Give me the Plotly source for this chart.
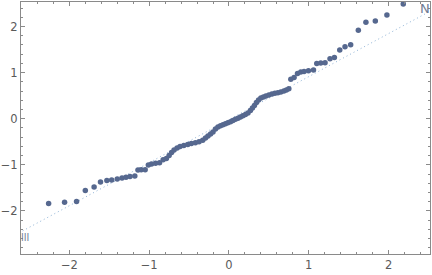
import numpy as np
import plotly.graph_objects as go

# Theoretical normal quantiles (x) and sorted sample values (y)
x_quant = [-2.26, -2.06, -1.91, -1.80, -1.69, -1.61, -1.53, -1.47, -1.40, -1.34,
           -1.29, -1.24, -1.18, -1.14, -1.10, -1.05, -1.01, -0.97, -0.92, -0.87,
           -0.825, -0.784, -0.75, -0.719, -0.688, -0.65, -0.613, -0.566, -0.516, -0.471,
           -0.421, -0.375, -0.329, -0.294, -0.263, -0.231, -0.20, -0.169, -0.138, -0.106,
           -0.075, -0.044, -0.013, 0.019, 0.05, 0.081, 0.113, 0.144, 0.175, 0.206,
           0.238, 0.269, 0.294, 0.319, 0.344, 0.371, 0.40, 0.431, 0.463, 0.50,
           0.538, 0.575, 0.613, 0.65, 0.688, 0.719, 0.75, 0.775, 0.816, 0.859,
           0.90, 0.941, 0.996, 1.059, 1.10, 1.15, 1.204, 1.266, 1.321, 1.388,
           1.454, 1.525, 1.621, 1.716, 1.834, 1.979, 2.184]
y_sample = [-1.838, -1.810, -1.795, -1.557, -1.479, -1.371, -1.341, -1.328, -1.307, -1.285,
            -1.270, -1.255, -1.242, -1.112, -1.108, -1.104, -1.004, -0.983, -0.968, -0.952,
            -0.892, -0.860, -0.795, -0.730, -0.676, -0.633, -0.600, -0.579, -0.557, -0.536,
            -0.521, -0.499, -0.464, -0.417, -0.374, -0.330, -0.287, -0.222, -0.179, -0.153,
            -0.132, -0.110, -0.089, -0.067, -0.039, -0.011, 0.011, 0.037, 0.065, 0.091,
            0.123, 0.177, 0.231, 0.285, 0.350, 0.408, 0.447, 0.469, 0.495, 0.516,
            0.538, 0.551, 0.566, 0.581, 0.603, 0.624, 0.652, 0.857, 0.896, 0.983,
            1.013, 1.026, 1.041, 1.056, 1.199, 1.207, 1.214, 1.300, 1.328, 1.488,
            1.559, 1.603, 1.920, 2.093, 2.121, 2.251, 2.488]

# Reference line y = intercept + slope * x
ref_intercept = -0.02
ref_slope = 0.933

x_ticks = [-2, -1, 0, 1, 2]
y_ticks = [-2, -1, 0, 1, 2]
x_range = [-2.606, 2.519]
y_range = [-2.933, 2.531]

line_x = np.array([x_range[0] - 0.2, x_range[1] + 0.2])
line_y = ref_intercept + ref_slope * line_x

fig = go.Figure()
fig.add_trace(go.Scatter(
    x=line_x, y=line_y, mode="lines",
    line=dict(color="#8fb3d6", width=1, dash="1px,3px"),
    hoverinfo="skip", showlegend=False))
fig.add_trace(go.Scatter(
    x=x_quant, y=y_sample, mode="markers",
    marker=dict(color="#56688f", size=5.5, line=dict(width=0)),
    showlegend=False))

axis_common = dict(
    showgrid=False, zeroline=False,
    showline=True, linecolor="#8a8a8a", linewidth=1, mirror="allticks",
    ticks="inside", ticklen=4, tickwidth=1, tickcolor="#8a8a8a",
    minor=dict(ticks="inside", ticklen=2, tickwidth=1, tickcolor="#8a8a8a", dtick=0.2, showgrid=False),
    tickfont=dict(family="DejaVu Sans", size=11.5, color="#5a5a5a"),
)

fig.update_xaxes(range=x_range, tickvals=x_ticks, ticktext=[str(v).replace("-", "\u2212") for v in x_ticks], **axis_common)
fig.update_yaxes(range=y_range, tickvals=y_ticks, ticktext=[str(v).replace("-", "\u2212") for v in y_ticks], **axis_common)

fig.add_annotation(x=-2.56, y=-2.57, text="lll", showarrow=False,
                   font=dict(family="DejaVu Sans", size=10, color="#6f7d96"))
fig.add_annotation(x=2.46, y=2.38, text="N", showarrow=False,
                   font=dict(family="DejaVu Sans", size=13, color="#6f7d96"))

fig.update_layout(
    width=432, height=275,
    margin=dict(l=19, r=2, t=1, b=21),
    paper_bgcolor="white", plot_bgcolor="white",
)

fig.write_html("out.html")
